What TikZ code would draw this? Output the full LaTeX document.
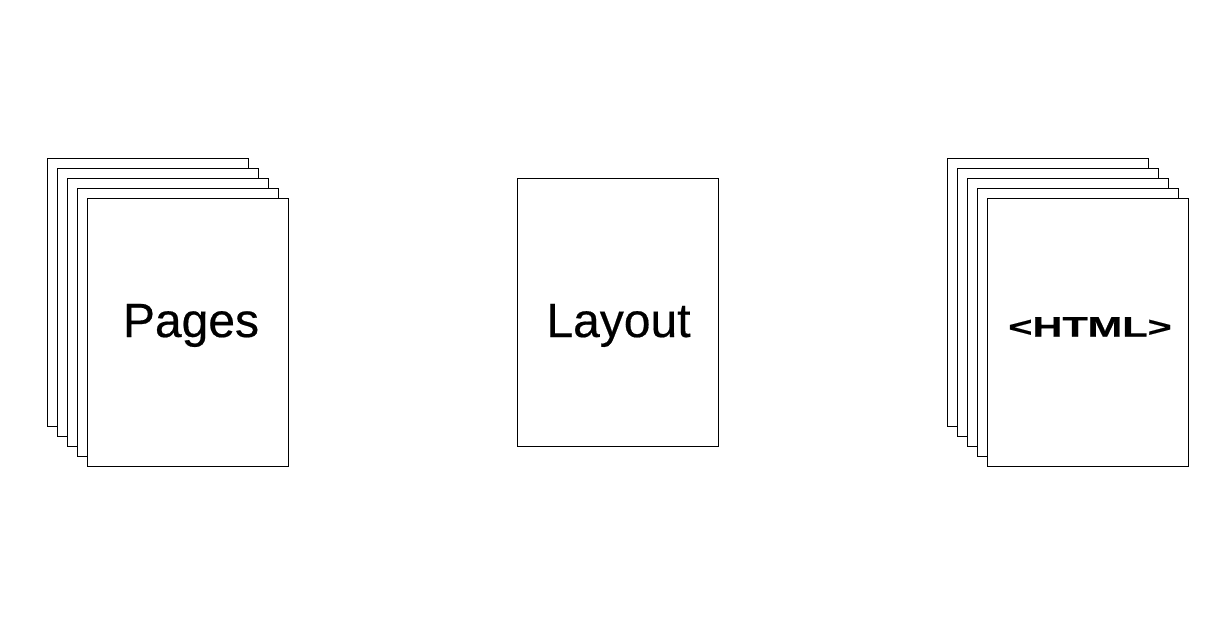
\documentclass[tikz,border=0pt]{standalone}
\usepackage{fontspec}
\setmainfont{Liberation Sans}
\newfontfamily\sheetfont{Liberation Sans}[FakeBold=0.4]
\usepackage{tikz}
\usetikzlibrary{positioning}

\begin{document}
\begin{tikzpicture}[x=1pt,y=-1pt,
  sheet/.style={draw, fill=white, line width=1pt, minimum width=201pt, minimum height=268pt, inner sep=0pt},
  title/.style={font=\sheetfont\fontsize{48}{48}\selectfont, anchor=base, inner sep=0pt}]
\useasboundingbox (0,0) rectangle (1230,643);
% Pages stack
\foreach \i in {0,...,4}
  \node[sheet] (pages\i) at (148+10*\i,292+10*\i) {};
\node[title] (pagestext) at (191,337) {Pages};
% Layout sheet
\node[sheet] (layout) at (617.5,312) {};
\node[title] (layouttext) at (618.5,337) {Layout};
% HTML stack
\foreach \i in {0,...,4}
  \node[sheet] (html\i) at (1048+10*\i,292+10*\i) {};
\node[title] (htmltext) at (1090,336.5) {\scalebox{1.48}[1]{\bfseries\fontsize{28}{28}\selectfont <HTML>}};
\end{tikzpicture}
\end{document}
